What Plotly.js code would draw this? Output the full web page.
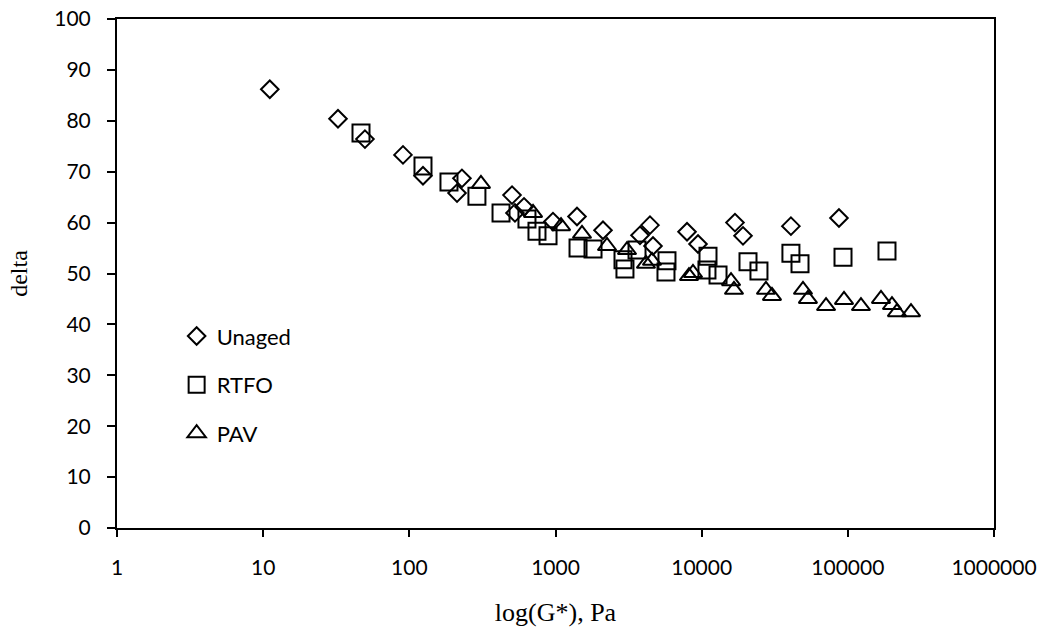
<!DOCTYPE html>
<html>
<head>
<meta charset="utf-8">
<script src="https://cdn.plot.ly/plotly-3.0.1.min.js"></script>
<style>
  html, body { margin: 0; padding: 0; background: #ffffff; }
  #chart { width: 1047px; height: 637px; }
</style>
</head>
<body>
<div id="chart"></div>
<script>
// Unaged binder
const unagedG = [11.1, 32.5, 49.7, 90.5, 124, 212, 229, 504, 528, 609, 961, 1403, 2113, 3786, 4430, 4645, 7940, 9440, 16900, 19180, 40800, 86960];
const unagedDelta = [86.2, 80.4, 76.4, 73.3, 69.2, 65.8, 68.7, 65.4, 61.9, 63.1, 60.2, 61.2, 58.5, 57.5, 59.5, 55.4, 58.2, 55.8, 60.0, 57.4, 59.3, 60.9];

// RTFO aged
const rtfoG = [46.7, 124, 186.7, 290, 424, 638, 747, 889, 1426, 1806, 2896, 2987, 3612, 5790, 5700, 11050, 10870, 12940, 20750, 24660, 40800, 47080, 92680, 185300];
const rtfoDelta = [77.6, 71.1, 68.0, 65.2, 61.9, 60.7, 58.3, 57.4, 55.0, 54.8, 52.7, 50.9, 54.6, 52.5, 50.3, 53.4, 50.7, 49.7, 52.3, 50.5, 54.0, 51.9, 53.2, 54.4];

// PAV aged
const pavG = [309, 702, 1091, 1518, 2251, 3085, 4158, 4573, 8190, 8723, 15880, 16640, 27540, 30270, 49340, 53330, 70950, 94150, 123000, 168600, 200500, 216800, 270500];
const pavDelta = [67.6, 61.9, 59.3, 57.8, 55.4, 54.6, 51.9, 52.5, 49.5, 50.1, 48.5, 46.8, 46.8, 45.6, 46.8, 45.0, 43.6, 44.8, 43.6, 45.0, 43.8, 42.4, 42.4];

const seriesNames = ["Unaged", "RTFO", "PAV"];
const xTickVals = [1, 10, 100, 1000, 10000, 100000, 1000000];
const xTickText = ["1", "10", "100", "1000", "10000", "100000", "1000000"];
const yTickVals = [0, 10, 20, 30, 40, 50, 60, 70, 80, 90, 100];

const markerLine = { color: "#000000", width: 2 };

const traces = [
  {
    x: unagedG, y: unagedDelta, name: seriesNames[0], type: "scatter", mode: "markers",
    legendgroup: "g1",
    marker: { symbol: "diamond-open", size: 13.5, color: "#000000", line: markerLine }
  },
  {
    x: rtfoG, y: rtfoDelta, name: seriesNames[1], type: "scatter", mode: "markers",
    legendgroup: "g2",
    marker: { symbol: "square-open", size: 17, color: "#000000", line: markerLine }
  },
  {
    x: pavG, y: pavDelta, name: seriesNames[2], type: "scatter", mode: "markers",
    legendgroup: "g3",
    marker: { symbol: "triangle-up-open", size: 16, color: "#000000", line: markerLine }
  }
];

const tickFont = { family: "Lato, 'Open Sans', sans-serif", size: 21, color: "#000000" };

const layout = {
  width: 1047,
  height: 637,
  margin: { l: 117, r: 53, t: 19, b: 109 },
  paper_bgcolor: "#ffffff",
  plot_bgcolor: "#ffffff",
  showlegend: true,
  legend: {
    x: 0.068, y: 0.418, xanchor: "left", yanchor: "top",
    bgcolor: "rgba(0,0,0,0)",
    font: { family: "Lato, 'Open Sans', sans-serif", size: 22, color: "#000000" },
    tracegroupgap: 17,
    itemwidth: 30
  },
  xaxis: {
    type: "log",
    range: [0, 6],
    tickmode: "array",
    tickvals: xTickVals,
    ticktext: xTickText,
    ticks: "outside",
    ticklen: 7,
    tickwidth: 2,
    tickcolor: "#000000",
    ticklabelstandoff: 13,
    showgrid: false,
    zeroline: false,
    showline: true,
    linecolor: "#000000",
    linewidth: 2,
    mirror: true,
    tickfont: tickFont,
    title: { text: "log(G*), Pa", font: { family: "'Liberation Serif', 'Times New Roman', serif", size: 26, color: "#000000" }, standoff: 25 }
  },
  yaxis: {
    range: [0, 100],
    tickmode: "array",
    tickvals: yTickVals,
    ticks: "outside",
    ticklen: 8,
    tickwidth: 2,
    tickcolor: "#000000",
    ticklabelstandoff: 12,
    showgrid: false,
    zeroline: false,
    showline: true,
    linecolor: "#000000",
    linewidth: 2,
    mirror: true,
    tickfont: tickFont,
    title: { text: "delta", font: { family: "'Liberation Serif', 'Times New Roman', serif", size: 24, color: "#000000" }, standoff: 20 }
  }
};

Plotly.newPlot("chart", traces, layout, { displayModeBar: false, staticPlot: true });
</script>
</body>
</html>
